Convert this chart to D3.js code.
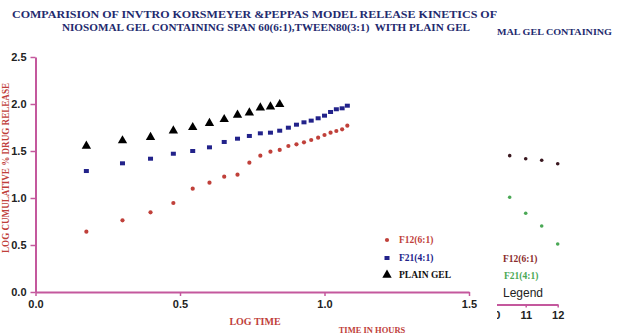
<!DOCTYPE html>
<html><head><meta charset="utf-8">
<script src="https://cdn.jsdelivr.net/npm/d3@7"></script>
<style>
html,body{margin:0;padding:0;background:#fff;}
svg{display:block;}
</style></head>
<body>
<svg id="chart" width="617" height="336"></svg>
<script>
// ---- data ----
const logTime = [0.176,0.301,0.398,0.477,0.544,0.602,0.653,0.699,0.740,0.778,0.813,0.845,
                 0.875,0.903,0.929,0.954,0.978,1.000,1.021,1.041,1.061,1.079];
const f12 = [0.642,0.762,0.848,0.947,1.099,1.163,1.227,1.248,1.376,1.450,1.493,1.511,
             1.553,1.571,1.592,1.617,1.642,1.670,1.695,1.713,1.731,1.769];
const f21 = [1.287,1.369,1.418,1.471,1.500,1.539,1.596,1.631,1.660,1.688,1.695,1.716,
             1.748,1.780,1.805,1.823,1.848,1.876,1.915,1.944,1.954,1.982];
const plainGel = [1.553,1.610,1.646,1.716,1.752,1.795,1.837,1.883,1.907,1.960,1.971,1.996];
const xTicks = [0,0.5,1.0,1.5];
const yTicks = [0,0.5,1.0,1.5,2.0,2.5];
const legendLabels = ["F12(6:1)","F21(4:1)","PLAIN GEL"];
const titleLines = ["COMPARISION OF INVTRO KORSMEYER &PEPPAS MODEL RELEASE KINETICS OF",
                    "NIOSOMAL GEL CONTAINING SPAN 60(6:1),TWEEN80(3:1)  WITH PLAIN GEL"];
// overlapping second chart (partially visible)
const insetHours = [10.5,11,11.5,12];
const insetF12 = [58.4,57.2,56.6,55.2];
const insetF21 = [42.0,35.7,30.7,23.6];
const insetTicks = [10,11,12];
const insetLegend = ["F12(6:1)","F21(4:1)"];

const svg = d3.select("#chart");
const pink = "#c4589d";
const serif = "'Liberation Serif','Times New Roman',serif";
const sans = "'Liberation Sans',Arial,sans-serif";
const navy = "#232a6e";
const red = "#c0403a";
const blue = "#22228a";

// titles
svg.append("text").attr("x",12).attr("y",18).attr("font-family",serif).attr("font-weight","bold")
  .attr("font-size",10).attr("fill",navy).attr("textLength",485).attr("lengthAdjust","spacingAndGlyphs")
  .style("white-space","pre").text(titleLines[0]);
svg.append("text").attr("x",62).attr("y",31).attr("font-family",serif).attr("font-weight","bold")
  .attr("font-size",10).attr("fill",navy).attr("textLength",408).attr("lengthAdjust","spacingAndGlyphs")
  .style("white-space","pre").text(titleLines[1]);

const x = d3.scaleLinear().domain([0,1.5]).range([35.5,469]);
const y = d3.scaleLinear().domain([0,2.5]).range([292,57]);

// axes
const gx = svg.append("g").attr("transform","translate(0,292)")
  .call(d3.axisBottom(x).tickValues(xTicks).tickFormat(d3.format(".1f")).tickSize(4).tickSizeOuter(0));
const gy = svg.append("g").attr("transform","translate(35.5,0)")
  .call(d3.axisLeft(y).tickValues(yTicks).tickFormat(d3.format(".1f")).tickSize(5).tickSizeOuter(0));
[gx,gy].forEach(g=>{
  g.select(".domain").attr("stroke",pink).attr("stroke-width",2);
  g.selectAll(".tick line").attr("stroke",pink).attr("stroke-width",1.5);
  g.selectAll(".tick text").attr("font-family",sans).attr("font-weight","bold").attr("font-size",11).attr("fill","#222");
});
gx.selectAll(".tick text").attr("dy","0.85em");
gy.selectAll(".tick text").attr("dx","-1");

// axis titles
svg.append("text").attr("x",255).attr("y",325).attr("text-anchor","middle").attr("font-family",serif)
  .attr("font-weight","bold").attr("font-size",10).attr("fill",red).text("LOG TIME");
svg.append("text").attr("transform","translate(9,168) rotate(-90)").attr("text-anchor","middle")
  .attr("font-family",serif).attr("font-weight","bold").attr("font-size",10.5).attr("fill",red)
  .attr("textLength",170).attr("lengthAdjust","spacingAndGlyphs").text("LOG CUMULATIVE % DRUG RELEASE");

// marks
svg.append("g").selectAll("circle").data(f12).join("circle")
  .attr("cx",(d,i)=>x(logTime[i])).attr("cy",d=>y(d)).attr("r",2.1).attr("fill",red);
svg.append("g").selectAll("rect").data(f21).join("rect")
  .attr("x",(d,i)=>x(logTime[i])-2.5).attr("y",d=>y(d)-2).attr("width",5).attr("height",4).attr("fill",blue);
const tri = d3.symbol().type(d3.symbolTriangle).size(38);
svg.append("g").selectAll("path").data(plainGel).join("path")
  .attr("transform",(d,i)=>`translate(${x(logTime[i])},${y(d)})`).attr("d",tri).attr("fill","#000");

// legend
const legY = [240,258,275];
const legCol = [red,blue,"#111"];
svg.append("circle").attr("cx",387).attr("cy",legY[0]).attr("r",2.1).attr("fill",red);
svg.append("rect").attr("x",384.5).attr("y",legY[1]-2).attr("width",5).attr("height",4).attr("fill",blue);
svg.append("path").attr("transform",`translate(387,${legY[2]})`).attr("d",tri).attr("fill","#000");
legendLabels.forEach((t,i)=>{
  svg.append("text").attr("x",399).attr("y",legY[i]).attr("dy","0.35em").attr("font-family",serif)
    .attr("font-weight","bold").attr("font-size",9.5).attr("fill",legCol[i]).text(t);
});

// ---- overlapping second chart fragment ----
svg.append("defs").append("clipPath").attr("id","insetClip")
  .append("rect").attr("x",497).attr("y",0).attr("width",120).attr("height",336);
const inset = svg.append("g").attr("clip-path","url(#insetClip)");
inset.append("text").attr("x",497).attr("y",35).attr("font-family",serif).attr("font-weight","bold")
  .attr("font-size",8.5).attr("fill",navy).attr("textLength",115).attr("lengthAdjust","spacingAndGlyphs")
  .text("MAL GEL CONTAINING");
const xi = d3.scaleLinear().domain([10,12]).range([493.7,557.7]);
const yi = d3.scaleLinear().domain([0,100]).range([304,50]);
inset.append("g").selectAll("circle.a").data(insetF12).join("circle")
  .attr("cx",(d,i)=>xi(insetHours[i])).attr("cy",d=>yi(d)).attr("r",1.8).attr("fill","#3a1820");
inset.append("g").selectAll("circle.b").data(insetF21).join("circle")
  .attr("cx",(d,i)=>xi(insetHours[i])).attr("cy",d=>yi(d)).attr("r",1.8).attr("fill","#4aa855");
const gxi = inset.append("g").attr("transform","translate(0,304.5)")
  .call(d3.axisBottom(xi).tickValues(insetTicks).tickFormat(d3.format("d")).tickSize(3).tickSizeOuter(0));
gxi.select(".domain").attr("stroke",pink).attr("stroke-width",2);
gxi.selectAll(".tick line").attr("stroke",pink).attr("stroke-width",1.5);
gxi.selectAll(".tick text").attr("font-family",sans).attr("font-weight","bold").attr("font-size",11).attr("fill","#222").attr("dy","0.75em");
inset.append("text").attr("x",503).attr("y",259).attr("dy","0.35em").attr("font-family",serif)
  .attr("font-weight","bold").attr("font-size",9.5).attr("fill","#8a2a2a").text(insetLegend[0]);
inset.append("text").attr("x",504).attr("y",276).attr("dy","0.35em").attr("font-family",serif)
  .attr("font-weight","bold").attr("font-size",9.5).attr("fill","#4aa855").text(insetLegend[1]);
inset.append("text").attr("x",503).attr("y",293).attr("dy","0.35em").attr("font-family",sans)
  .attr("font-size",12).attr("fill","#222").text("Legend");

// clipped "TIME IN HOURS" label (top half hidden)
svg.append("defs").append("clipPath").attr("id","timeClip")
  .append("rect").attr("x",300).attr("y",327).attr("width",150).attr("height",20);
svg.append("text").attr("clip-path","url(#timeClip)").attr("x",372).attr("y",333).attr("text-anchor","middle")
  .attr("font-family",serif).attr("font-weight","bold").attr("font-size",8.5).attr("fill",red)
  .text("TIME IN HOURS");
</script>
</body></html>
